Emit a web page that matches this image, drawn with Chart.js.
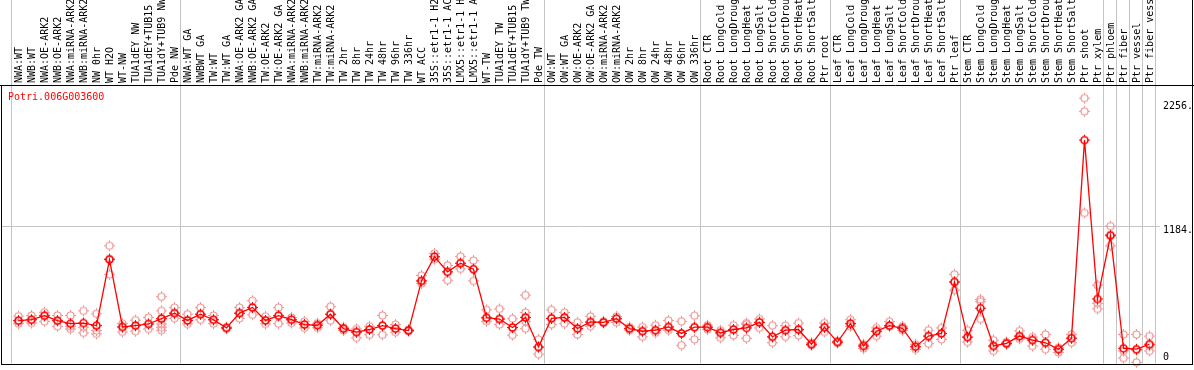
<!DOCTYPE html>
<html>
<head>
<meta charset="utf-8">
<script src="https://cdn.jsdelivr.net/npm/chart.js@4/dist/chart.umd.min.js"></script>
<style>
  html, body { margin: 0; padding: 0; background: #fff; }
  #wrap { width: 1194px; height: 370px; position: relative; }
</style>
</head>
<body>
<div id="wrap"><canvas id="geneChart"></canvas></div>
<script>
const geneName = "Potri.006G003600";

const sampleLabels = [
  "NWA:WT", "NWB:WT", "NWA:OE-ARK2", "NWB:OE-ARK2", "NWA:miRNA-ARK2", "NWB:miRNA-ARK2",
  "NW 0hr", "WT H2O", "WT-NW", "TUA1dEY NW", "TUA1dEY+TUB15 NW", "TUA1dY+TUB9 NW", "Pde NW",
  "NWA:WT GA", "NWBWT GA", "TW:WT", "TW:WT GA", "NWA:OE-ARK2 GA", "NWB:OE-ARK2 GA",
  "TW:OE-ARK2", "TW:OE-ARK2 GA", "NWA:miRNA-ARK2", "NWB:miRNA-ARK2", "TW:miRNA-ARK2", "TW:miRNA-ARK2",
  "TW 2hr", "TW 8hr", "TW 24hr", "TW 48hr", "TW 96hr", "TW 336hr", "WT ACC",
  "35S::etr1-1 H2O", "35S::etr1-1 ACC", "LMX5::etr1-1 H2O", "LMX5::etr1-1 ACC",
  "WT-TW", "TUA1dEY TW", "TUA1dEY+TUB15 TW", "TUA1dY+TUB9 TW", "Pde TW",
  "OW:WT", "OW:WT GA", "OW:OE-ARK2", "OW:OE-ARK2 GA", "OW:miRNA-ARK2", "OW:miRNA-ARK2",
  "OW 2hr", "OW 8hr", "OW 24hr", "OW 48hr", "OW 96hr", "OW 336hr",
  "Root CTR", "Root LongCold", "Root LongDrought", "Root LongHeat", "Root LongSalt",
  "Root ShortCold", "Root ShortDrought", "Root ShortHeat", "Root ShortSalt", "Ptr root",
  "Leaf CTR", "Leaf LongCold", "Leaf LongDrought", "Leaf LongHeat", "Leaf LongSalt",
  "Leaf ShortCold", "Leaf ShortDrought", "Leaf ShortHeat", "Leaf ShortSalt", "Ptr leaf",
  "Stem CTR", "Stem LongCold", "Stem LongDrought", "Stem LongHeat", "Stem LongSalt",
  "Stem ShortCold", "Stem ShortDrought", "Stem ShortHeat", "Stem ShortSalt", "Ptr shoot",
  "Ptr xylem", "Ptr phloem", "Ptr fiber", "Ptr vessel", "Ptr fiber vessel"
];

// mean expression per sample
const meanValues = [
  362, 370, 405, 362, 336, 341, 319, 892, 307, 319, 333, 379, 427,
  364, 418, 370, 299, 427, 476, 364, 405, 370, 328, 322, 418,
  293, 262, 285, 319, 293, 276, 707, 918, 786, 861, 809,
  387, 376, 302, 390, 133,
  382, 390, 293, 350, 347, 379, 293, 270, 279, 307, 251, 305,
  305, 256, 285, 299, 347, 222, 279, 285, 157, 305,
  176, 336, 142, 270, 319, 296, 136, 228, 251, 698,
  219, 470, 142, 165, 228, 193, 170, 114, 210, 1930,
  550, 1100, 122, 114, 157
];

// replicate values
const rep1 = [
  401, 407, 435, 407, 407, 447, 422, 1012, 336, 367, 390, 570, 476,
  418, 476, 407, 305, 476, 535, 399, 476, 390, 356, 340, 484,
  305, 290, 313, 407, 328, 285, 755, 946, 841, 920, 884,
  456, 464, 379, 584, 199,
  456, 433, 347, 399, 356, 399, 307, 307, 322, 364, 356, 405,
  322, 279, 322, 341, 376, 319, 319, 341, 170, 341,
  185, 370, 157, 299, 353, 313, 157, 279, 299, 764,
  279, 547, 193, 176, 273, 219, 242, 127, 242, 2295,
  670, 1183, 242, 242, 228
];
const rep2 = [
  362, 370, 405, 362, 313, 305, 276, 901, 307, 319, 333, 447, 427,
  364, 418, 370, 299, 427, 476, 364, 405, 370, 328, 325, 418,
  293, 262, 285, 319, 293, 276, 707, 918, 786, 861, 809,
  387, 376, 302, 433, 133,
  382, 390, 293, 350, 347, 379, 293, 270, 279, 307, 251, 305,
  305, 256, 285, 330, 347, 222, 279, 285, 157, 305,
  176, 336, 142, 270, 319, 296, 136, 228, 251, 698,
  219, 527, 142, 165, 228, 193, 170, 114, 210, 2180,
  512, 1111, 99, 105, 142
];
const rep3 = [
  336, 341, 356, 313, 290, 256, 247, 764, 264, 270, 290, 379, 382,
  333, 370, 336, 293, 382, 413, 333, 336, 341, 299, 300, 362,
  276, 213, 239, 239, 262, 270, 683, 895, 713, 812, 707,
  356, 328, 236, 356, 71,
  328, 336, 242, 313, 341, 347, 279, 222, 256, 279, 148, 199,
  285, 213, 234, 208, 299, 170, 222, 234, 148, 264,
  168, 313, 119, 228, 313, 279, 114, 162, 199, 627,
  176, 376, 99, 157, 204, 142, 114, 85, 170, 1297,
  464, 1012, 37, 0, 99
];
// a few samples have more replicates
const rep4 = sampleLabels.map(() => null);
const rep5 = sampleLabels.map(() => null);
const rep6 = sampleLabels.map(() => null);
rep4[11] = 333; rep5[11] = 305; rep6[11] = 279;
rep4[39] = 390; rep5[39] = 293;

const yTickValues = [0, 1184, 2256];
const yTickLabels = ["0", "1184.", "2256."];

// number of samples before each grey separator line
const groupEnds = [0, 13, 41, 53, 63, 73, 84, 85, 86, 87, 88];

const monoFont = "'DejaVu Sans Mono', 'Liberation Mono', monospace";

function makeMarker(color, lw) {
  const c = document.createElement("canvas");
  c.width = 13; c.height = 13;
  const g = c.getContext("2d");
  g.strokeStyle = color;
  g.lineWidth = lw;
  g.beginPath();
  g.arc(6.5, 6.5, 3.5, 0, Math.PI * 2);
  g.stroke();
  g.lineWidth = 1;
  g.beginPath();
  g.moveTo(6.5, 1); g.lineTo(6.5, 3);
  g.moveTo(6.5, 10); g.lineTo(6.5, 12);
  g.moveTo(1, 6.5); g.lineTo(3, 6.5);
  g.moveTo(10, 6.5); g.lineTo(12, 6.5);
  g.stroke();
  return c;
}

const mainMarker = makeMarker("#ff0000", 1.6);
const repMarker = makeMarker("rgb(236,150,150)", 1.2);

function repSet(data) {
  return {
    type: "line",
    data: data,
    showLine: false,
    pointStyle: repMarker,
    pointRadius: 5,
    pointHoverRadius: 5,
    clip: false,
    order: 2
  };
}

const framePlugin = {
  id: "frame",
  beforeDatasetsDraw(chart) {
    const ctx = chart.ctx;
    const xs = chart.scales.x, ys = chart.scales.y;
    const area = chart.chartArea;
    const half = (xs.getPixelForValue(1) - xs.getPixelForValue(0)) / 2;
    ctx.save();
    ctx.strokeStyle = "#c4c4c4";
    ctx.lineWidth = 1;
    ctx.beginPath();
    groupEnds.forEach(n => {
      const px = Math.round(xs.getPixelForValue(n) - half - 1) + 0.5;
      ctx.moveTo(px, 0);
      ctx.lineTo(px, area.bottom);
    });
    const gy = Math.round(ys.getPixelForValue(1184)) + 0.5;
    ctx.moveTo(1, gy);
    ctx.lineTo(area.right + 4, gy);
    ctx.stroke();
    ctx.restore();
  },
  afterDraw(chart) {
    const ctx = chart.ctx;
    const area = chart.chartArea;
    const ys = chart.scales.y;
    const w = chart.width;
    const bottom = Math.round(area.bottom) + 0.5;
    ctx.save();
    ctx.strokeStyle = "#000";
    ctx.lineWidth = 1;
    ctx.beginPath();
    ctx.moveTo(0, 85.5); ctx.lineTo(w, 85.5);
    ctx.moveTo(1.5, 85); ctx.lineTo(1.5, bottom + 0.5);
    ctx.moveTo(1, bottom); ctx.lineTo(w - 1, bottom);
    ctx.moveTo(w - 1.5, 0); ctx.lineTo(w - 1.5, bottom + 0.5);
    ctx.stroke();
    // right axis labels, placed from the y scale
    ctx.fillStyle = "#000";
    ctx.font = "10px " + monoFont;
    ctx.textBaseline = "middle";
    ctx.textAlign = "left";
    yTickValues.forEach((v, i) => {
      const py = Math.min(ys.getPixelForValue(v) + 4, area.bottom - 6);
      ctx.fillText(yTickLabels[i], area.right + 7, py);
    });
    ctx.fillStyle = "#ff0000";
    ctx.fillText(geneName, 8, 97);
    ctx.restore();
  }
};

new Chart("geneChart", {
  type: "line",
  data: {
    labels: sampleLabels,
    datasets: [
      {
        data: meanValues,
        borderColor: "#ff0000",
        borderWidth: 1.3,
        pointStyle: mainMarker,
        pointRadius: 5,
        pointHoverRadius: 5,
        tension: 0,
        clip: false,
        order: 1
      },
      repSet(rep1), repSet(rep2), repSet(rep3),
      repSet(rep4), repSet(rep5), repSet(rep6)
    ]
  },
  options: {
    responsive: true,
    maintainAspectRatio: false,
    animation: false,
    devicePixelRatio: 1,
    layout: { padding: { left: 12, right: 0, top: 0, bottom: 2 } },
    plugins: {
      legend: { display: false },
      tooltip: { enabled: false }
    },
    scales: {
      x: {
        type: "category",
        position: "top",
        offset: true,
        grid: { display: false, drawTicks: false },
        border: { display: false },
        ticks: {
          autoSkip: false,
          minRotation: 90,
          maxRotation: 90,
          padding: 3,
          labelOffset: 13,
          color: "#000",
          font: { family: monoFont, size: 10 }
        },
        afterFit(scale) {
          scale.height = 86;
          scale.paddingLeft = 0;
          scale.paddingRight = 0;
        }
      },
      y: {
        position: "right",
        min: -12,
        max: 2400,
        grid: { display: false, drawTicks: false },
        border: { display: false },
        ticks: { display: false },
        afterFit(scale) {
          scale.width = 38;
        }
      }
    }
  },
  plugins: [framePlugin]
});
</script>
</body>
</html>
